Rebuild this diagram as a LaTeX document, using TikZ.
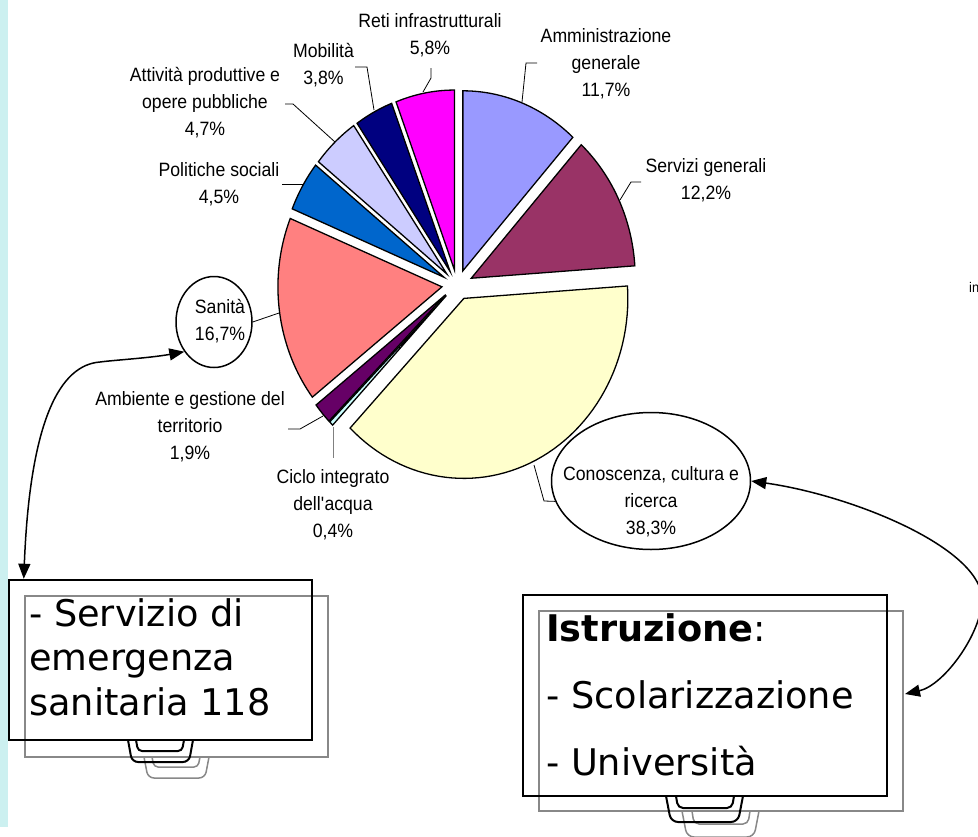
\documentclass[tikz,border=0pt]{standalone}
\usepackage{fontspec}
\setmainfont{Liberation Sans}
\newfontfamily\chartfont[FakeStretch=0.915]{Liberation Sans}
\newfontfamily\boxfont{DejaVu Sans}
\usetikzlibrary{shapes.geometric, arrows.meta, calc}
\definecolor{cAmm}{HTML}{9999FF}
\definecolor{cSer}{HTML}{993366}
\definecolor{cCon}{HTML}{FFFFCC}
\definecolor{cCic}{HTML}{CCFFFF}
\definecolor{cAmb}{HTML}{660066}
\definecolor{cSan}{HTML}{FF8080}
\definecolor{cPol}{HTML}{0066CC}
\definecolor{cAtt}{HTML}{CCCCFF}
\definecolor{cMob}{HTML}{000080}
\definecolor{cRet}{HTML}{FF00FF}
\definecolor{stripcol}{RGB}{204,240,240}
\definecolor{boxgray}{RGB}{136,136,136}
\newcommand\pieSector[3]{%
  \pgfmathsetmacro\psBis{(#1+#2)/2}%
  \pgfmathsetmacro\psTx{457.3+15.5*cos(\psBis)}%
  \pgfmathsetmacro\psTy{284.8-15*sin(\psBis)}%
  \filldraw[fill=#3, draw=black, line width=1.3pt, line join=miter]
    (\psTx,\psTy) -- plot[domain=#1:#2, samples=60, variable=\ang]
    ({\psTx+164*cos(\ang)}, {\psTy-180*sin(\ang)}) -- cycle;
}
\newcommand\clab[1]{\begin{tabular}[t]{@{}c@{}}#1\end{tabular}}
\newcommand\llab[1]{\begin{tabular}[t]{@{}l@{}}#1\end{tabular}}
\begin{document}
\begin{tikzpicture}[x=1pt,y=-1pt,
  leader/.style={draw=black, line width=0.8pt},
  chartlbl/.style={font=\chartfont\fontsize{19.3}{27}\selectfont, inner sep=0pt, anchor=base},
  bigtxt/.style={font=\boxfont\fontsize{36.7}{44.5}\selectfont, inner sep=0pt, anchor=base west},
  blackbox/.style={draw=black, line width=2.5pt, inner sep=0pt, rectangle},
  graybox/.style={draw=boxgray, line width=2pt, inner sep=0pt, rectangle},
  callout/.style={ellipse, draw=black, line width=1.5pt, fill=white, inner sep=0pt},
  dbl/.style={{Triangle[length=15pt,width=12pt]}-{Triangle[length=15pt,width=12pt]}, line width=1.5pt},
  handleblack/.style={draw=black, line width=2pt},
  handlegray/.style={draw=boxgray, line width=1.5pt}]
\useasboundingbox (0,0) rectangle (978,836);
\fill[stripcol] (0,0) rectangle (8,827);

% pie
\pieSector{90}{47.88}{cAmm}
\pieSector{47.88}{3.96}{cSer}
\pieSector{3.96}{-133.92}{cCon}
\pieSector{-133.92}{-135.36}{cCic}
\pieSector{-135.36}{-142.2}{cAmb}
\pieSector{-142.2}{-202.32}{cSan}
\pieSector{-202.32}{-218.52}{cPol}
\pieSector{-218.52}{-235.44}{cAtt}
\pieSector{-235.44}{-249.12}{cMob}
\pieSector{-249.12}{-270}{cRet}

% ellipses
\node[callout, minimum width=76pt, minimum height=91pt] (sanE) at (214,322) {};
\node[callout, minimum width=199pt, minimum height=137pt] (conE) at (651,481) {};

% leaders
\draw[leader] (431,68) -- (431,78) -- (423,92);
\draw[leader] (355,67) -- (367,67) -- (374,110);
\draw[leader] (285,104) -- (293,104) -- (335,142);
\draw[leader] (282,184) -- (303,184);
\draw[leader] (sanE.east) -- (279,313);
\draw[leader] (288,429) -- (300,429) -- (323,416);
\draw[leader, draw=gray] (333,427) -- (333,458);
\draw[leader] (534,465) -- (544,501) -- (conE.192);
\draw[leader] (537,63) -- (526,63) -- (522,102);
\draw[leader] (641,182) -- (631,182) -- (620,200);

% chart labels
\node[chartlbl] (lReti) at (430,27) {\clab{Reti infrastrutturali\\5,8\%}};
\node[chartlbl] (lMob) at (323.5,57) {\clab{Mobilità\\3,8\%}};
\node[chartlbl] (lAtt) at (205,81) {\clab{Attività produttive e\\opere pubbliche\\4,7\%}};
\node[chartlbl] (lPol) at (219,176) {\clab{Politiche sociali\\4,5\%}};
\node[chartlbl] (lSan) at (220,313) {\clab{Sanità\\16,7\%}};
\node[chartlbl] (lAmb) at (190,405) {\clab{Ambiente e gestione del\\territorio\\1,9\%}};
\node[chartlbl] (lCic) at (333,483) {\clab{Ciclo integrato\\dell\textquotesingle acqua\\0,4\%}};
\node[chartlbl] (lCon) at (651,480) {\clab{Conoscenza, cultura e\\ricerca\\38,3\%}};
\node[chartlbl] (lAmm) at (606,42) {\clab{Amministrazione\\generale\\11,7\%}};
\node[chartlbl] (lSer) at (706,172) {\clab{Servizi generali\\12,2\%}};
\node[font=\chartfont\fontsize{14}{16}\selectfont, anchor=base west, inner sep=0pt] (frag) at (969,292) {in};

% left box
\node[graybox, minimum width=303pt, minimum height=161pt] (boxLg) at (176.5,676.5) {};
\node[blackbox, minimum width=303pt, minimum height=160pt] (boxL) at (160.5,660) {};
\draw[handlegray, rounded corners=6pt] (144,757) -- (148,778) -- (205,778) -- (209,757);
\draw[handlegray, rounded corners=4pt] (152,757) -- (154,767) -- (198,767) -- (200,757);
\draw[handleblack, rounded corners=6pt] (128,740) -- (132,762) -- (189,762) -- (193,740);
\draw[handleblack, rounded corners=4pt] (136,740) -- (138,751) -- (182,751) -- (184,740);
\node[bigtxt] (tL) at (29,626) {\llab{- Servizio di\\emergenza\\sanitaria 118}};

% right box
\node[graybox, minimum width=364pt, minimum height=200pt] (boxRg) at (721,711) {};
\node[blackbox, minimum width=364pt, minimum height=201pt] (boxR) at (705,695.5) {};
\draw[handlegray, rounded corners=7pt] (682,811) -- (687,837) -- (754,837) -- (759,811);
\draw[handlegray, rounded corners=5pt] (692,811) -- (694,824) -- (748,824) -- (750,811);
\draw[handleblack, rounded corners=7pt] (666,796) -- (671,822) -- (738,822) -- (743,796);
\draw[handleblack, rounded corners=5pt] (676,796) -- (678,808) -- (732,808) -- (734,796);
\node[bigtxt, font=\boxfont\fontsize{36.7}{67}\selectfont] (tR) at (546,641) {\llab{\textbf{Istruzione}:\\- Scolarizzazione\\- Università}};

% arrows
\draw[dbl] (sanE.225) .. controls (150,358) and (115,360) .. (100,362)
  .. controls (60,365) and (30,420) .. ($(boxL.north west)+(16,0)$);
\draw[dbl] (conE.east) .. controls (850,495) and (975,545) .. (982,596)
  .. controls (984,630) and (945,685) .. ($(boxRg.east)+(1,-17)$);
\end{tikzpicture}
\end{document}
